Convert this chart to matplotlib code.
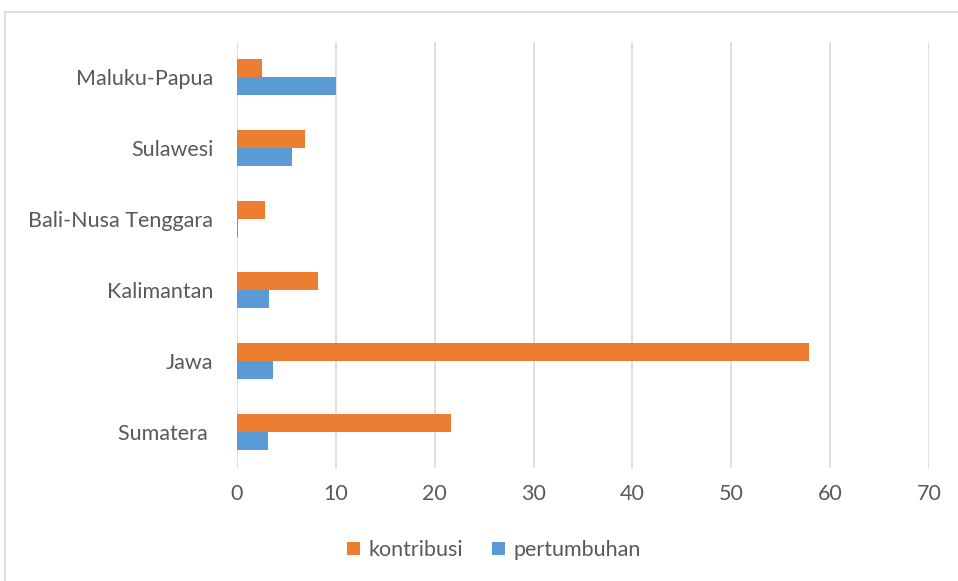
import numpy as np
import matplotlib.pyplot as plt
from matplotlib.patches import Rectangle

plt.rcParams['font.family'] = ['Lato', 'DejaVu Sans']

regions = ['Sumatera ', 'Jawa', 'Kalimantan', 'Bali-Nusa Tenggara', 'Sulawesi', 'Maluku-Papua']
kontribusi = [21.6, 57.9, 8.2, 2.8, 6.9, 2.5]
pertumbuhan = [3.1, 3.6, 3.2, 0.07, 5.6, 10.0]

orange = '#ED7D31'
blue = '#5B9BD5'
grey = '#595959'

fig = plt.figure(figsize=(9.58, 5.81), dpi=100)
# chart border
fig.patches.append(Rectangle((5 / 958, -0.1), 1.0, 1 - 12 / 581 + 0.1, transform=fig.transFigure,
                             fill=False, edgecolor='#D9D9D9', linewidth=1.2))

ax = fig.add_axes([237 / 958, 1 - 467.5 / 581, (929 - 237) / 958, (467.5 - 41.5) / 581])
y = np.arange(len(regions))
h = 0.255
ax.barh(y + h / 2, kontribusi, height=h, color=orange, label='kontribusi', zorder=3)
ax.barh(y - h / 2, pertumbuhan, height=h, color=blue, label='pertumbuhan', zorder=3)

ax.set_xlim(0, 70)
ax.set_ylim(-0.5, len(regions) - 0.5)
ax.set_xticks(range(0, 71, 10))
ax.set_yticks(y)
ax.set_yticklabels(regions)
ax.grid(axis='x', color='#D9D9D9', linewidth=1.2, zorder=0)
for s in ax.spines.values():
    s.set_visible(False)
ax.tick_params(length=0, labelsize=15.5, labelcolor=grey)
ax.tick_params(axis='y', pad=17)
ax.tick_params(axis='x', pad=12)

fig.legend(loc='center', bbox_to_anchor=(494 / 958, 1 - 550 / 581), ncol=2, frameon=False,
           fontsize=15.5, labelcolor=grey, handlelength=0.6, handleheight=0.6,
           handletextpad=0.4, columnspacing=1.35)

fig.savefig('out.png', dpi=100)
